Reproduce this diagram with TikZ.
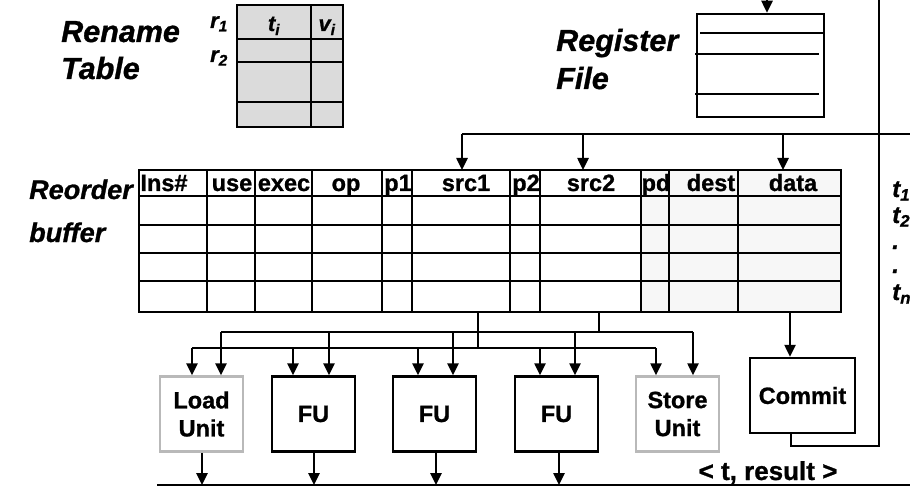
\documentclass[tikz,border=0pt]{standalone}
\usepackage{fontspec}
\setmainfont{Liberation Sans}[BoldFeatures={FakeBold=1.0}, BoldItalicFeatures={FakeBold=1.0}]
\usetikzlibrary{arrows.meta}
\newcommand{\bigfnt}{\fontsize{30.5}{32}\selectfont\bfseries\itshape}
\newcommand{\robfnt}{\fontsize{27}{29}\selectfont\bfseries\itshape}
\newcommand{\hdrfnt}{\fontsize{23.5}{25}\selectfont\bfseries}
\newcommand{\unitfnt}{\fontsize{23.5}{28}\selectfont\bfseries}
\newcommand{\resfnt}{\fontsize{26}{28}\selectfont\bfseries}
\newcommand{\tfnt}{\fontsize{22}{24}\selectfont\bfseries\itshape}
\newcommand{\tnfnt}{\fontsize{24}{26}\selectfont\bfseries\itshape}
\begin{document}
\begin{tikzpicture}[x=1pt,y=-1pt,line width=2.5pt,
  arr/.style={-{Triangle[width=11pt,length=12pt]}},
  unitbox/.style={draw, minimum width=83pt, minimum height=75pt, align=center, font=\unitfnt, inner sep=0pt},
  memunit/.style={unitbox, draw=gray!55},
  biglabel/.style={font=\bigfnt, anchor=base west, inner sep=0pt},
  roblabel/.style={font=\robfnt, anchor=base west, inner sep=0pt},
  hdr/.style={font=\hdrfnt, inner sep=0pt, anchor=base},
  tlab/.style={font=\tnfnt, inner sep=0pt, anchor=base west},
  grid/.style={line width=2.5pt}]
\useasboundingbox (0,0) rectangle (910,489);

% ---------- labels ----------
\node[biglabel] (lren) at (60,42) {Rename};
\node[biglabel] (ltab) at (60,79) {Table};
\node[biglabel] (lreg) at (555,51) {Register};
\node[biglabel] (lfil) at (555,89) {File};
\node[roblabel] (lreo) at (28,199) {Reorder};
\node[roblabel] (lbuf) at (28,242) {buffer};

% ---------- rename table ----------
\fill[gray!28] (237,5) rectangle (343,127);
\draw[grid] (237,5) rectangle (343,127);
\draw[grid] (311,5) -- (311,127);
\foreach \yy in {39,62,102} \draw[grid] (237,\yy) -- (343,\yy);
\node[font=\tfnt, inner sep=0pt, anchor=base] (ti) at (274,31) {t\textsubscript{i}};
\node[font=\tfnt, inner sep=0pt, anchor=base] (vi) at (327,31) {v\textsubscript{i}};
\node[font=\tfnt, inner sep=0pt, anchor=base] (r1) at (219,28) {r\textsubscript{1}};
\node[font=\tfnt, inner sep=0pt, anchor=base] (r2) at (219,62) {r\textsubscript{2}};

% ---------- register file ----------
\node[draw, minimum width=127pt, minimum height=103pt, inner sep=0pt] (rf) at (760.5,65.5) {};
\draw (700,33) -- (823,33);
\draw (695,54) -- (819,54);
\draw (695,94) -- (819,94);
\coordinate (rfin) at (767,0);
\draw[arr] (rfin) -- (rf.north -| rfin);

% ---------- reorder buffer ----------
\fill[gray!6] (641,170) rectangle (841,312);
\draw[grid] (139,170) rectangle (841,312);
\foreach \yy in {196,225,253,281} \draw[grid] (139,\yy) -- (841,\yy);
\foreach \xx in {207,255,312,382,412,510,540,641,738} \draw[grid] (\xx,170) -- (\xx,312);
\draw[line width=1.4pt] (669,170) -- (669,312);
\node[hdr] (hins) at (164,191) {Ins\#};
\node[hdr] (huse) at (232,191) {use};
\node[hdr] (hexe) at (284,191) {exec};
\node[hdr] (hop) at (346,191) {op};
\node[hdr] (hp1) at (398,191) {p1};
\node[hdr] (hs1) at (466,191) {src1};
\node[hdr] (hp2) at (526,191) {p2};
\node[hdr] (hs2) at (591,191) {src2};
\node[hdr] (hpd) at (656,191) {pd};
\node[hdr] (hde) at (711,191) {dest};
\node[hdr] (hda) at (793,191) {data};

% t labels
\node[tlab] (t1) at (891,197) {t\textsubscript{1}};
\node[tlab] (t2) at (891,223) {t\textsubscript{2}};
\node[tlab] (d1) at (891,249) {.};
\node[tlab] (d2) at (891,273) {.};
\node[tlab] (tn) at (891,300) {t\textsubscript{n}};

% ---------- bus into ROB ----------
\coordinate (busR) at (910,134);
\coordinate (bs1) at (462,134);
\coordinate (bs2) at (583,134);
\coordinate (bda) at (783,134);
\draw (busR) -- (bs1);
\draw[arr] (bs1) -- (462,170);
\draw[arr] (bs2) -- (583,170);
\draw[arr] (bda) -- (783,170);

% ---------- units ----------
\node[memunit] (load) at (201.5,414) {Load\\Unit};
\node[unitbox] (fu1) at (313.5,414) {FU};
\node[unitbox] (fu2) at (434.5,414) {FU};
\node[unitbox] (fu3) at (556.5,414) {FU};
\node[memunit] (store) at (677.5,414) {Store\\Unit};
\node[unitbox, minimum width=105pt] (commit) at (802.5,395.5) {Commit};

% buses from ROB to units
\coordinate (lowtap) at (478,312);
\coordinate (uptap) at (599,312);
\draw (lowtap) -- (478,348);
\draw (uptap) -- (599,332);
\draw (192,348) -- (656,348);
\draw (221,332) -- (693,332);
\draw[arr] (192,348) -- (load.north -| 192,0);
\draw[arr] (221,332) -- (load.north -| 221,0);
\draw[arr] (293,348) -- (fu1.north -| 293,0);
\draw[arr] (329,332) -- (fu1.north -| 329,0);
\draw[arr] (418,348) -- (fu2.north -| 418,0);
\draw[arr] (453,332) -- (fu2.north -| 453,0);
\draw[arr] (540,348) -- (fu3.north -| 540,0);
\draw[arr] (575,332) -- (fu3.north -| 575,0);
\draw[arr] (656,348) -- (store.north -| 656,0);
\draw[arr] (693,332) -- (store.north -| 693,0);

% ROB to commit
\coordinate (robc) at (790,312);
\draw[arr] (robc) -- (commit.north -| robc);

% commit loop back up
\coordinate (loopt) at (879,0);
\draw (commit.south -| 791,0) -- (791,446) -- (879,446) -- (loopt);

% result bus
\coordinate (resL) at (157,485);
\coordinate (resR) at (910,485);
\draw (resL) -- (resR);
\draw[arr] (load.south -| 202,0) -- (202,485);
\draw[arr] (fu1.south -| 314,0) -- (314,485);
\draw[arr] (fu2.south -| 436,0) -- (436,485);
\draw[arr] (fu3.south -| 559,0) -- (559,485);
\node[font=\resfnt, inner sep=0pt, anchor=base] (res) at (768,480) {< t, result >};
\end{tikzpicture}
\end{document}
